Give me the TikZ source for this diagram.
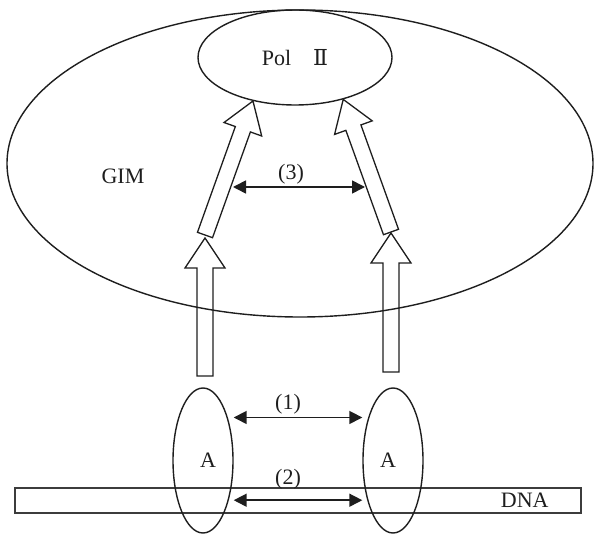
\documentclass[tikz,border=0pt]{standalone}
\usepackage{fontspec}
\setmainfont{Liberation Serif}
\newfontfamily\numfont{DejaVu Serif}
\usepackage{tikz}
\usetikzlibrary{shapes,arrows.meta,calc}
\definecolor{inkgray}{RGB}{30, 30, 30}
\definecolor{dnagray}{RGB}{60, 60, 60}
\tikzset{
    blob/.style={ellipse, draw=inkgray, line width=1.4pt, inner sep=0pt},
    blockline/.style={draw=inkgray, line width=1.3pt, line join=miter},
    linkarrow/.style={{Triangle[length=13pt,width=13pt]}-{Triangle[length=13pt,width=13pt]}, line width=1.6pt, draw=inkgray},
    lbl/.style={font=\fontsize{22}{26}\selectfont, text=inkgray, inner sep=1pt},
}
% hollow block arrow from #1 (tail) to #2 (tip)
\newcommand{\blockarrow}[2]{
    \coordinate (hb) at ($(#2)!30pt!(#1)$);
    \draw[blockline] ($(#1)!8pt!90:(#2)$) -- ($(hb)!8pt!90:(#2)$) -- ($(hb)!20pt!90:(#2)$) -- (#2)
        -- ($(hb)!20pt!-90:(#2)$) -- ($(hb)!8pt!-90:(#2)$) -- ($(#1)!8pt!-90:(#2)$) -- cycle;
}
\begin{document}
\begin{tikzpicture}[x=1pt, y=-1pt]
    \useasboundingbox (0,0) rectangle (594,534);

    \node[blob, minimum width=586pt, minimum height=307pt] (gim) at (300,163.5) {};
    \node[lbl] at (123,176) {GIM};
    \node[blob, minimum width=194pt, minimum height=95pt, lbl, inner sep=0pt] (pol) at (295,57.5) {Pol\hspace{1em}{\numfont Ⅱ}};

    \node[draw=dnagray, line width=1.5pt, minimum width=566pt, minimum height=25pt, inner sep=0pt] (dna) at (298,500.5) {};
    \node[lbl] at ([xshift=-57pt]dna.east) {DNA};

    \node[blob, minimum width=60pt, minimum height=145pt] (aL) at (203,460.5) {};
    \node[blob, minimum width=60pt, minimum height=145pt] (aR) at (393,460.5) {};
    \node[lbl] at ([xshift=5pt]aL.center) {A};
    \node[lbl] at ([xshift=-5pt]aR.center) {A};

    \coordinate (lowL) at (205,376);
    \coordinate (lowR) at (391,372);
    \coordinate (upL) at (205,235);
    \coordinate (upR) at (391,232);
    \blockarrow{lowL}{205,238}
    \blockarrow{lowR}{391,233}
    \blockarrow{upL}{pol.-134}
    \blockarrow{upR}{pol.-41}

    \coordinate (midL) at (233,187);
    \coordinate (midR) at (365,187);
    \draw[linkarrow] (midL) -- node[lbl, above=1pt, xshift=-8pt] {(3)} (midR);
    \draw[linkarrow] (aL.60 -| aL.east) -- node[lbl, above=1pt, xshift=-10pt] {(1)} (aR.120 -| aR.west);
    \draw[linkarrow] (aL.-57 -| aL.east) -- node[lbl, above=9pt, xshift=-10pt] {(2)} (aR.-123 -| aR.west);
\end{tikzpicture}
\end{document}
